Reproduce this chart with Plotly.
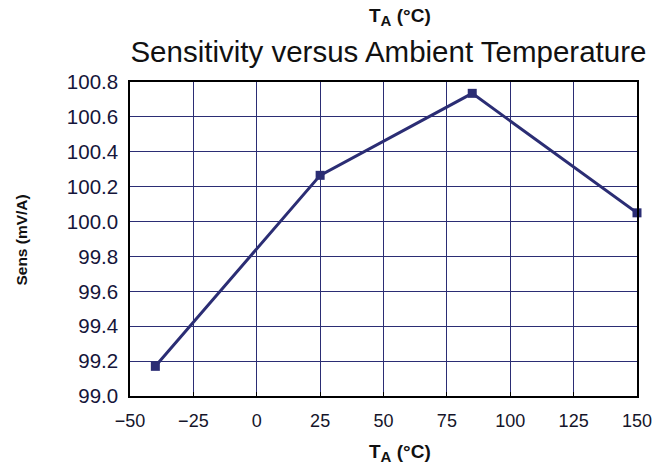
import plotly.graph_objects as go

temps = [-40, 25, 85, 150]
sens = [99.17, 100.265, 100.735, 100.05]
x_ticks = [-50, -25, 0, 25, 50, 75, 100, 125, 150]
x_tick_labels = ["\u221250", "\u221225", "0", "25", "50", "75", "100", "125", "150"]
y_ticks = [99.0, 99.2, 99.4, 99.6, 99.8, 100.0, 100.2, 100.4, 100.6, 100.8]
y_tick_labels = ["99.0", "99.2", "99.4", "99.6", "99.8", "100.0", "100.2", "100.4", "100.6", "100.8"]

navy = "#2b2d74"
font = "Liberation Sans, Arial, sans-serif"
ta_label = "<b>T<sub><span style='font-size:15px'>A</span></sub> (°C)</b>"

fig = go.Figure()
fig.add_trace(go.Scatter(
    x=temps, y=sens, mode="lines+markers",
    line=dict(color=navy, width=3),
    marker=dict(symbol="square", size=9, color=navy),
    cliponaxis=False, showlegend=False,
))

fig.update_layout(
    width=655, height=468,
    margin=dict(l=130, r=18, t=82, b=72, autoexpand=False),
    paper_bgcolor="white", plot_bgcolor="white",
    font=dict(family=font, color="#111122"),
    title=dict(text="Sensitivity versus Ambient Temperature", xref="container", x=0.593,
               xanchor="center", yref="container", y=0.889, yanchor="middle",
               font=dict(size=29.5, color="#111111", family=font)),
    xaxis=dict(
        range=[-50, 150], tickvals=x_ticks, ticktext=x_tick_labels,
        showgrid=True, gridcolor=navy, gridwidth=1.3,
        showline=True, linecolor="black", linewidth=1.5, mirror=True,
        ticks="inside", ticklen=4, tickcolor="black",
        ticklabelstandoff=8,
        tickfont=dict(size=18, color="#15152a"),
        zeroline=False,
    ),
    yaxis=dict(
        range=[99.0, 100.8], tickvals=y_ticks, ticktext=y_tick_labels,
        showgrid=True, gridcolor=navy, gridwidth=1.3,
        showline=True, linecolor="black", linewidth=1.5, mirror=True,
        ticks="", ticklabelstandoff=6,
        tickfont=dict(size=20.5, color="#15153a"),
        zeroline=False,
    ),
    annotations=[
        dict(text=ta_label, xref="paper", yref="paper",
             x=0.533, y=1.0, yshift=65, xanchor="center", yanchor="middle",
             showarrow=False, font=dict(size=19, color="#111111", family=font)),
        dict(text=ta_label, xref="paper", yref="paper",
             x=0.533, y=0.0, yshift=-57, xanchor="center", yanchor="middle",
             showarrow=False, font=dict(size=19, color="#111111", family=font)),
        dict(text="<b>Sens (mV/A)</b>", xref="paper", yref="paper",
             x=0.0, xshift=-108, y=0.495, xanchor="center", yanchor="middle",
             textangle=-90, showarrow=False,
             font=dict(size=15.5, color="#111111", family=font)),
    ],
)

fig.write_html("out.html", config={"displayModeBar": False},
               post_script="document.body.style.margin='0';")
